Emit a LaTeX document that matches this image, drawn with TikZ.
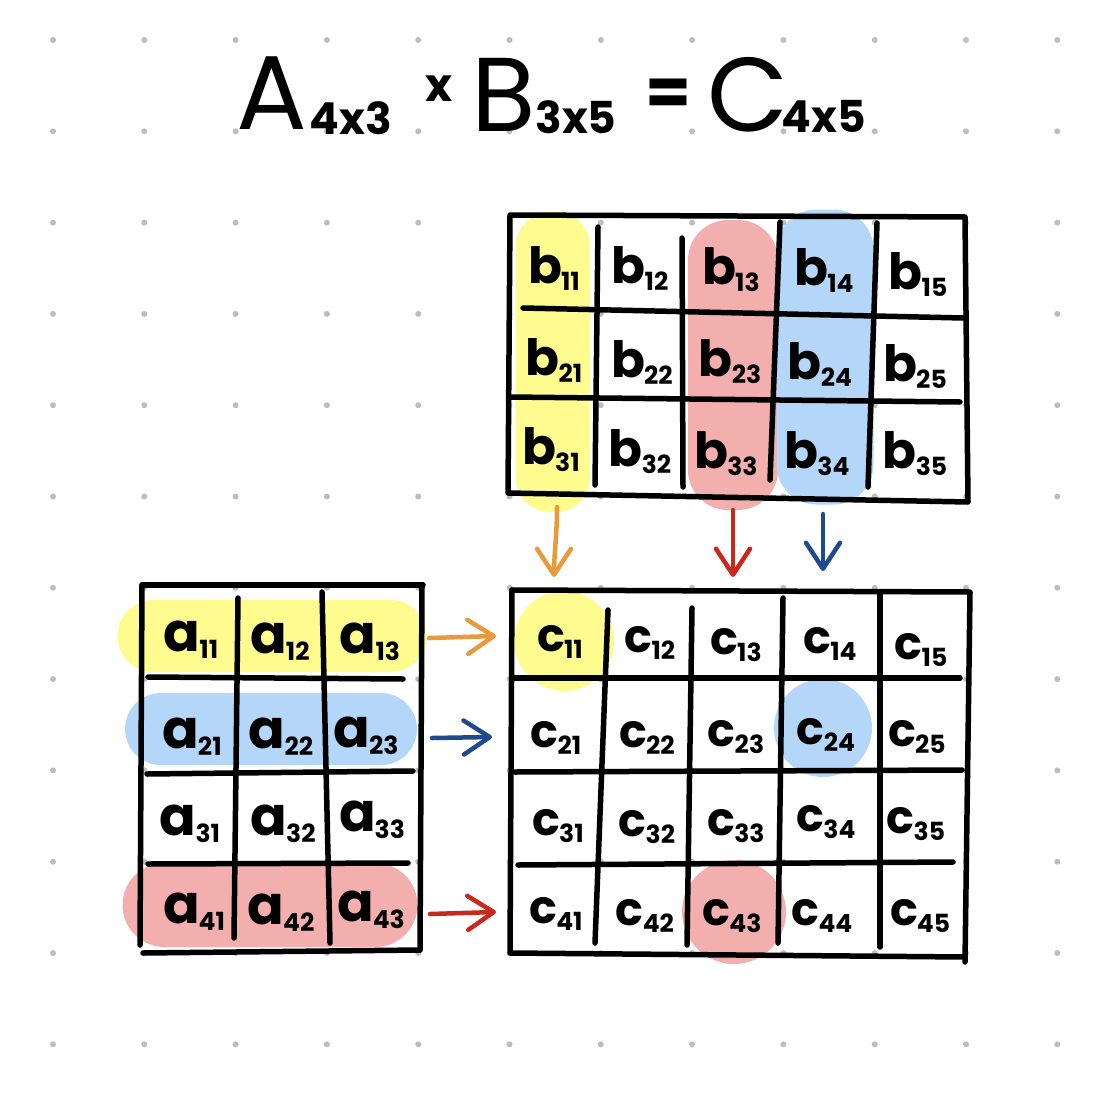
\documentclass[tikz,border=0pt]{standalone}
\usepackage{fontspec}
\setmainfont{Poppins}
\usetikzlibrary{arrows.meta}
\definecolor{hlyellow}{HTML}{FFFC8F}
\definecolor{hlred}{HTML}{F2AFAE}
\definecolor{hlblue}{HTML}{B4D6F8}
\definecolor{arrorange}{HTML}{E89A3C}
\definecolor{arrred}{HTML}{C8281E}
\definecolor{arrblue}{HTML}{1F4A8C}
\definecolor{dotgray}{HTML}{BDBDBD}
\newcommand{\elA}[1]{{\fontsize{54}{54}\selectfont a}\kern-1pt\raisebox{-7pt}{\fontsize{25}{25}\selectfont #1}}
\newcommand{\elB}[1]{{\fontsize{50}{50}\selectfont b}\kern-1pt\raisebox{-7pt}{\fontsize{25}{25}\selectfont #1}}
\newcommand{\elC}[1]{{\fontsize{46}{46}\selectfont c}\kern-1pt\raisebox{-7pt}{\fontsize{25}{25}\selectfont #1}}
\begin{document}
\begin{tikzpicture}[x=1pt,y=-1pt,
  grid/.style={line width=5.5pt, line cap=round, line join=round, black},
  cell/.style={inner sep=0pt, font=\bfseries},
  hl/.style={inner sep=0pt, draw=none},
  ttl/.style={inner sep=0pt},
  arr/.style={line width=4.5pt, line cap=round, -{Straight Barb[length=26pt,width=34pt,line width=4.5pt,round]}}]
\useasboundingbox (0,0) rectangle (1105,1097);
\fill[white] (0,0) rectangle (1105,1097);
% dot grid
\foreach \i in {0,...,11}
  \foreach \j in {0,...,11}
    \fill[dotgray] ({53+91.3*\i},{40+91.3*\j}) circle (3pt);

% title
\node[ttl, font=\fontsize{105}{105}\selectfont] (tA) at (272,93) {A};
\node[ttl, font=\bfseries\fontsize{44}{44}\selectfont] (tAs) at (351,118) {4x3};
\node[ttl, font=\bfseries\fontsize{46}{46}\selectfont] (tx) at (439,89) {x};
\node[ttl, font=\fontsize{105}{105}\selectfont] (tB) at (504,95) {B};
\node[ttl, font=\bfseries\fontsize{44}{44}\selectfont] (tBs) at (576,117) {3x5};
\node[ttl, font=\bfseries\fontsize{66}{66}\selectfont] (teq) at (668,97) {=};
\node[ttl, font=\fontsize{105}{105}\selectfont] (tC) at (748,95) {C};
\node[ttl, font=\bfseries\fontsize{44}{44}\selectfont] (tCs) at (824,116) {4x5};

% highlights B
\node[hl, fill=hlyellow, minimum width=74pt, minimum height=300pt, rounded corners=34pt] (hlB1) at (553,362) {};
\node[hl, fill=hlred, minimum width=90pt, minimum height=290pt, rounded corners=40pt] (hlB3) at (733,365) {};
\node[hl, fill=hlblue, minimum width=97pt, minimum height=295pt, rounded corners=40pt] (hlB4) at (825,357) {};
% highlights A
\node[hl, fill=hlyellow, minimum width=309pt, minimum height=72pt, rounded corners=36pt] (hlA1) at (272,636) {};
\node[hl, fill=hlblue, minimum width=292pt, minimum height=72pt, rounded corners=36pt] (hlA2) at (271,729) {};
\node[hl, fill=hlred, minimum width=295pt, minimum height=84pt, rounded corners=42pt] (hlA4) at (270,905) {};
% highlights C
\node[hl, fill=hlyellow, circle, minimum size=100pt] (hlC11) at (564,641) {};
\node[hl, fill=hlblue, circle, minimum size=98pt] (hlC24) at (823,728) {};
\node[hl, fill=hlred, circle, minimum size=104pt] (hlC43) at (734,912) {};

% matrix B lines
\draw[grid] (510,215) -- (965,217) -- (968,502) -- (508,493) -- cycle;
\draw[grid] (523,308) -- (963,318);
\draw[grid] (510,397) -- (960,402);
\draw[grid] (598,227) -- (595,485);
\draw[grid] (682,238) -- (683,487);
\draw[grid] (780,222) -- (770,480);
\draw[grid] (877,223) -- (868,487);

% matrix A lines
\draw[grid] (142,585) -- (423,585);
\draw[grid] (422,587) -- (420,950);
\draw[grid] (143,953) -- (420,950);
\draw[grid] (142,585) -- (140,945);
\draw[grid] (148,677) -- (403,679);
\draw[grid] (147,774) -- (413,771);
\draw[grid] (148,864) -- (408,863);
\draw[grid] (238,598) -- (234,938);
\draw[grid] (322,592) -- (330,943);

% matrix C lines
\draw[grid] (512,590) -- (970,592) -- (965,962);
\draw[grid] (512,590) -- (510,953) -- (965,957);
\draw[grid] (515,678) -- (960,678);
\draw[grid] (515,772) -- (962,770);
\draw[grid] (518,865) -- (953,862);
\draw[grid] (608,610) -- (595,943);
\draw[grid] (692,608) -- (687,945);
\draw[grid] (783,598) -- (778,943);
\draw[grid] (880,595) -- (880,947);

% B entries
\node[cell] (b11) at (554,268) {\elB{11}};
\node[cell] (b12) at (640,268) {\elB{12}};
\node[cell] (b13) at (731,270) {\elB{13}};
\node[cell] (b14) at (824,270) {\elB{14}};
\node[cell] (b15) at (918,274) {\elB{15}};
\node[cell] (b21) at (554,360) {\elB{21}};
\node[cell] (b22) at (642,362) {\elB{22}};
\node[cell] (b23) at (730,362) {\elB{23}};
\node[cell] (b24) at (820,364) {\elB{24}};
\node[cell] (b25) at (915,366) {\elB{25}};
\node[cell] (b31) at (551,450) {\elB{31}};
\node[cell] (b32) at (640,452) {\elB{32}};
\node[cell] (b33) at (726,454) {\elB{33}};
\node[cell] (b34) at (817,454) {\elB{34}};
\node[cell] (b35) at (915,454) {\elB{35}};

% A entries
\node[cell] (a11) at (191,640) {\elA{11}};
\node[cell] (a12) at (280,642) {\elA{12}};
\node[cell] (a13) at (370,642) {\elA{13}};
\node[cell] (a21) at (192,737) {\elA{21}};
\node[cell] (a22) at (281,737) {\elA{22}};
\node[cell] (a23) at (366,736) {\elA{23}};
\node[cell] (a31) at (190,824) {\elA{31}};
\node[cell] (a32) at (283,824) {\elA{32}};
\node[cell] (a33) at (372,820) {\elA{33}};
\node[cell] (a41) at (194,912) {\elA{41}};
\node[cell] (a42) at (281,913) {\elA{42}};
\node[cell] (a43) at (371,910) {\elA{43}};

% C entries
\node[cell] (c11) at (560,642) {\elC{11}};
\node[cell] (c12) at (650,643) {\elC{12}};
\node[cell] (c13) at (736,645) {\elC{13}};
\node[cell] (c14) at (830,644) {\elC{14}};
\node[cell] (c15) at (921,650) {\elC{15}};
\node[cell] (c21) at (556,738) {\elC{21}};
\node[cell] (c22) at (647,738) {\elC{22}};
\node[cell] (c23) at (736,737) {\elC{23}};
\node[cell] (c24) at (826,735) {\elC{24}};
\node[cell] (c25) at (917,737) {\elC{25}};
\node[cell] (c31) at (558,826) {\elC{31}};
\node[cell] (c32) at (647,827) {\elC{32}};
\node[cell] (c33) at (736,826) {\elC{33}};
\node[cell] (c34) at (826,822) {\elC{34}};
\node[cell] (c35) at (916,824) {\elC{35}};
\node[cell] (c41) at (556,914) {\elC{41}};
\node[cell] (c42) at (645,916) {\elC{42}};
\node[cell] (c43) at (732,916) {\elC{43}};
\node[cell] (c44) at (822,916) {\elC{44}};
\node[cell] (c45) at (920,916) {\elC{45}};

% arrow end points
\coordinate (sB1) at (557,507);
\coordinate (eB1) at (554,577);
\coordinate (sB3) at (733,510);
\coordinate (eB3) at (733,577);
\coordinate (sB4) at (823,514);
\coordinate (eB4) at (823,571);
\coordinate (sA1) at (429,638);
\coordinate (eA1) at (496,636);
\coordinate (sA2) at (432,738);
\coordinate (eA2) at (492,737);
\coordinate (sA4) at (430,914);
\coordinate (eA4) at (496,912);

\draw[arr, arrorange] (sB1) .. controls (557,535) and (554,555) .. (eB1);
\draw[arr, arrred] (sB3) -- (eB3);
\draw[arr, arrblue] (sB4) -- (eB4);
\draw[arr, arrorange] (sA1) -- (eA1);
\draw[arr, arrblue] (sA2) -- (eA2);
\draw[arr, arrred] (sA4) -- (eA4);
\end{tikzpicture}
\end{document}
